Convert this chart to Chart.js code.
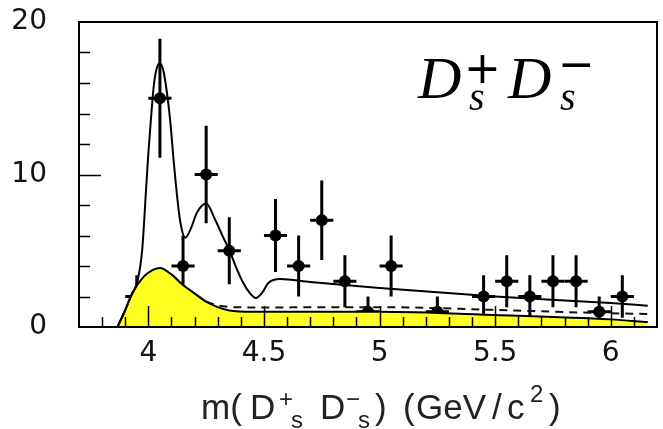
<!DOCTYPE html>
<html>
<head>
<meta charset="utf-8">
<script src="https://cdn.jsdelivr.net/npm/chart.js@4.4.1/dist/chart.umd.min.js"></script>
<style>
  html, body { margin: 0; padding: 0; background: #fff; }
</style>
</head>
<body>
<canvas id="massChart" width="663" height="429"></canvas>
<script>
// m(Ds+ Ds-) spectrum – data points, total fit, background components

// measured bins (centre, entries, error)
const binX   = [3.95, 4.05, 4.15, 4.25, 4.35, 4.55, 4.65, 4.75, 4.85, 4.95, 5.05, 5.25, 5.45, 5.55, 5.65, 5.75, 5.85, 5.95, 6.05];
const counts = [2, 15, 4, 10, 5, 6, 4, 7, 3, 1, 4, 1, 2, 3, 2, 3, 3, 1, 2];
const errs   = [1.4, 3.9, 2.0, 3.2, 2.2, 2.4, 2.0, 2.6, 1.7, 1.0, 2.0, 1.0, 1.4, 1.7, 1.4, 1.7, 1.7, 1.0, 1.4];
const binHalf = 0.05;

// total fit (solid)
const fitX = [3.866, 3.894, 3.93, 3.951, 3.973, 3.99, 4.0, 4.012, 4.023, 4.035, 4.05, 4.065, 4.08, 4.094, 4.11, 4.12, 4.137, 4.16, 4.185, 4.21, 4.25, 4.29, 4.32, 4.35, 4.38, 4.41, 4.44, 4.465, 4.49, 4.52, 4.57, 4.7, 5.0, 5.5, 6.0, 6.16];
const fitY = [0, 0.9, 2.2, 2.9, 5.0, 9.0, 11.4, 13.8, 15.75, 16.9, 17.3, 16.8, 15.4, 13.6, 10.8, 9.2, 7.0, 5.85, 6.5, 7.5, 8.1, 7.0, 6.0, 5.05, 3.9, 2.9, 2.2, 1.9, 2.2, 2.9, 3.15, 2.95, 2.56, 2.0, 1.57, 1.4];

// yellow background
const bkgX = [3.866, 3.894, 3.93, 3.98, 4.02, 4.05, 4.1, 4.15, 4.2, 4.25, 4.3, 4.35, 4.4, 4.5, 5.0, 5.5, 6.0, 6.16];
const bkgY = [0, 0.9, 2.2, 3.3, 3.75, 3.87, 3.45, 2.75, 2.2, 1.66, 1.3, 1.08, 1.02, 1.0, 1.0, 0.79, 0.5, 0.32];

// dashed component
const dashX = [4.2, 4.25, 4.3, 4.35, 4.4, 4.5, 4.8, 5.0, 5.5, 5.8, 6.16];
const dashY = [2.2, 1.68, 1.42, 1.32, 1.29, 1.28, 1.3, 1.3, 1.12, 0.98, 0.85];

const xTicks = [4, 4.5, 5, 5.5, 6];
const yTicks = [0, 10, 20];

const toXY = (xs, ys) => xs.map((v, i) => ({ x: v, y: ys[i] }));

const errorBars = {
  id: 'errorBars',
  beforeDatasetsDraw(chart) {
    const { ctx, scales: { x, y } } = chart;
    ctx.save();
    ctx.strokeStyle = '#000';
    ctx.lineWidth = 3;
    binX.forEach((bx, i) => {
      const px = x.getPixelForValue(bx);
      const py = y.getPixelForValue(counts[i]);
      ctx.beginPath();
      ctx.moveTo(x.getPixelForValue(bx - binHalf), py);
      ctx.lineTo(x.getPixelForValue(bx + binHalf), py);
      ctx.moveTo(px, y.getPixelForValue(counts[i] + errs[i]));
      ctx.lineTo(px, y.getPixelForValue(Math.max(0, counts[i] - errs[i])));
      ctx.stroke();
    });
    ctx.restore();
  }
};

// ROOT style frame with inward ticks
const frame = {
  id: 'frame',
  afterDatasetsDraw(chart) {
    const { ctx, chartArea: a, scales: { x, y } } = chart;
    ctx.save();
    ctx.strokeStyle = '#000';
    ctx.lineWidth = 1.5;
    ctx.beginPath();
    for (let v = 3.8; v < 6.2 - 1e-6; v += 0.1) {
      const px = Math.round(x.getPixelForValue(v)) + 0.5;
      const major = xTicks.some(t => Math.abs(t - v) < 1e-6);
      ctx.moveTo(px, a.bottom);
      ctx.lineTo(px, a.bottom - (major ? 21 : 10));
    }
    for (let v = 2; v < 20; v += 2) {
      const py = Math.round(y.getPixelForValue(v)) + 0.5;
      const major = yTicks.includes(v);
      ctx.moveTo(a.left, py);
      ctx.lineTo(a.left + (major ? 22 : 11), py);
    }
    ctx.stroke();
    ctx.lineWidth = 2;
    ctx.strokeRect(a.left, a.top, a.right - a.left, a.bottom - a.top);
    ctx.restore();
  }
};

const labels = {
  id: 'labels',
  afterDraw(chart) {
    const { ctx } = chart;
    ctx.save();
    ctx.textBaseline = 'alphabetic';
    ctx.textAlign = 'left';

    // axis title m(Ds+ Ds-) (GeV/c2)
    ctx.fillStyle = '#222';
    const big = '35px "Liberation Sans"';
    const small = '24px "Liberation Sans"';
    const parts = [
      ['m(', 201, big, 419], ['D', 250, big, 419], ['+', 279, small, 407], ['s', 291, small, 428],
      ['D', 320, big, 419], ['\u2212', 346, small, 407], ['s', 358, small, 428], [')', 375, big, 419],
      ['(', 403, big, 419], ['GeV', 416, big, 419], ['/', 492, big, 419], ['c', 507, big, 419],
      ['2', 530, small, 402], [')', 549, big, 419]
    ];
    parts.forEach(([t, px, f, py]) => { ctx.font = f; ctx.fillText(t, px, py); });

    // channel label
    ctx.fillStyle = '#000';
    ctx.font = 'italic 60px "Liberation Serif"';
    ctx.fillText('D', 418, 98);
    ctx.fillText('D', 508, 98);
    ctx.font = 'italic 40px "Liberation Serif"';
    ctx.fillText('s', 469, 110);
    ctx.fillText('s', 560, 110);
    ctx.font = '44px "DejaVu Sans"';
    ctx.fillText('+', 464, 83);
    ctx.fillText('\u2212', 558, 79);
    ctx.restore();
  }
};

new Chart(document.getElementById('massChart'), {
  type: 'line',
  data: {
    datasets: [
      {
        label: 'fit',
        data: toXY(fitX, fitY),
        borderColor: '#000',
        borderWidth: 2,
        pointRadius: 0,
        fill: false,
        cubicInterpolationMode: 'monotone',
        order: 1
      },
      {
        label: 'dashed',
        data: toXY(dashX, dashY),
        borderColor: '#111',
        borderWidth: 2,
        borderDash: [8, 6],
        pointRadius: 0,
        fill: false,
        cubicInterpolationMode: 'monotone',
        order: 2
      },
      {
        label: 'background',
        data: toXY(bkgX, bkgY),
        borderColor: '#000',
        borderWidth: 2,
        backgroundColor: '#ffff22',
        pointRadius: 0,
        fill: 'origin',
        cubicInterpolationMode: 'monotone',
        order: 3
      },
      {
        label: 'data',
        data: toXY(binX, counts),
        showLine: false,
        pointRadius: 6,
        pointBackgroundColor: '#000',
        pointBorderWidth: 0,
        order: 4
      }
    ]
  },
  options: {
    responsive: false,
    animation: false,
    devicePixelRatio: 1,
    layout: { padding: { top: 22, right: 1, left: 0, bottom: 0 } },
    plugins: {
      legend: { display: false },
      tooltip: { enabled: false }
    },
    scales: {
      x: {
        type: 'linear',
        min: 3.7,
        max: 6.2,
        afterBuildTicks: s => { s.ticks = xTicks.map(v => ({ value: v })); },
        afterFit: s => { s.height = 102; s.paddingLeft = 0; s.paddingRight = 0; },
        grid: { display: false, drawTicks: false },
        border: { display: false },
        ticks: {
          autoSkip: false,
          maxRotation: 0,
          padding: 10,
          color: '#111',
          font: { family: 'DejaVu Sans', size: 28 },
          callback: v => String(v)
        }
      },
      y: {
        min: 0,
        max: 20,
        afterBuildTicks: s => { s.ticks = yTicks.map(v => ({ value: v })); },
        afterFit: s => { s.width = 79; s.paddingTop = 0; s.paddingBottom = 0; },
        grid: { display: false, drawTicks: false },
        border: { display: false },
        ticks: {
          padding: 32,
          color: '#111',
          font: { family: 'DejaVu Sans', size: 28 },
          callback: v => String(v)
        }
      }
    }
  },
  plugins: [errorBars, frame, labels]
});
</script>
</body>
</html>
